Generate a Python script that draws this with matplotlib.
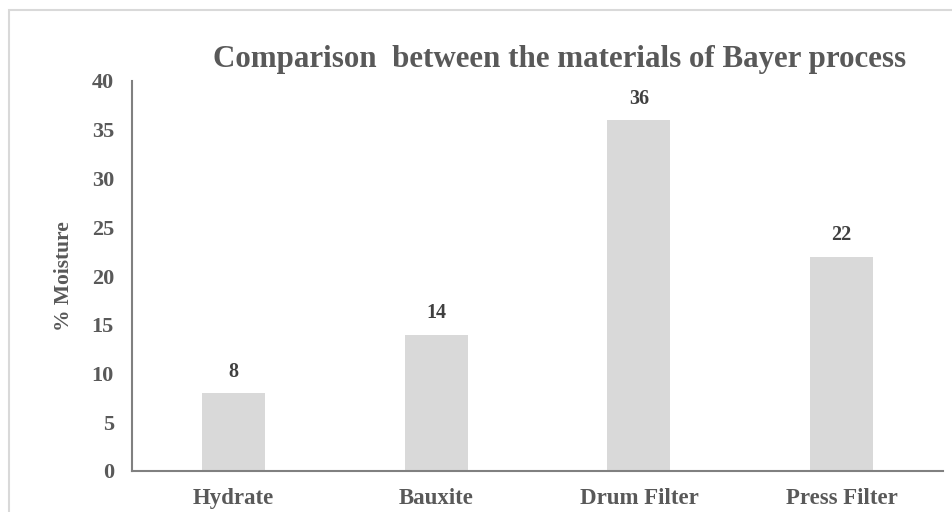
import matplotlib.pyplot as plt
from matplotlib.patches import Rectangle

materials = ['Hydrate', 'Bauxite', 'Drum Filter', 'Press Filter']
moisture = [8, 14, 36, 22]
y_ticks = [0, 5, 10, 15, 20, 25, 30, 35, 40]

plt.rcParams['font.family'] = ['Liberation Serif', 'DejaVu Serif']
plt.rcParams['font.weight'] = 'bold'

fig = plt.figure(figsize=(9.52, 5.12), dpi=100)
ax = fig.add_axes([132 / 952, 41 / 512, 811 / 952, 390 / 512])

# Border around the chart area
fig.patches.append(Rectangle((9 / 952, -0.05), 1.0, 1 - 10 / 512 + 0.05,
                             transform=fig.transFigure, fill=False,
                             edgecolor='#d9d9d9', linewidth=1.5))

x = range(len(materials))
ax.bar(x, moisture, width=0.31, color='#d9d9d9')

for xi, v in zip(x, moisture):
    ax.annotate(str(v), (xi, v), xytext=(0, 8), textcoords='offset points',
                ha='center', va='bottom', fontsize=14.5, fontweight='bold',
                color='#404040')

ax.set_xlim(-0.5, len(materials) - 0.5)
ax.set_ylim(0, 40)
ax.set_yticks(y_ticks)
ax.set_xticks(list(x))
ax.set_xticklabels(materials)

for s in ['top', 'right']:
    ax.spines[s].set_visible(False)
for s in ['left', 'bottom']:
    ax.spines[s].set_color('#808080')
    ax.spines[s].set_linewidth(1.5)

ax.tick_params(axis='y', length=0, pad=13, labelsize=16, labelcolor='#595959')
ax.tick_params(axis='x', length=0, pad=12.5, labelsize=16.5, labelcolor='#595959')

ax.set_ylabel('% Moisture', fontsize=15.5, fontweight='bold', color='#595959', labelpad=13)

fig.text(560 / 952, 1 - 59 / 512, 'Comparison  between the materials of Bayer process',
         ha='center', va='center', fontsize=22.3, fontweight='bold', color='#595959')

plt.savefig('out.png', dpi=100)
